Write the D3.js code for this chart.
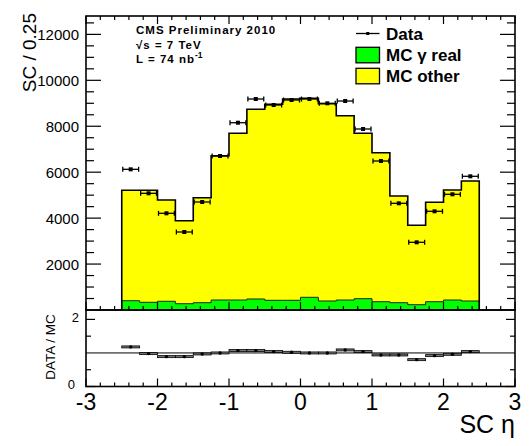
<!DOCTYPE html>
<html><head><meta charset="utf-8">
<script src="https://cdn.jsdelivr.net/npm/d3@7"></script>
<style>
body{margin:0;background:#fff;}
svg{display:block;font-family:"Liberation Sans",Arial,sans-serif;}
</style></head>
<body><svg id="c" width="530" height="446"></svg>
<script>
// ---- data ----
const binLow  = [-2.5,-2.25,-2.0,-1.75,-1.5,-1.25,-1.0,-0.75,-0.5,-0.25,0.0,0.25,0.5,0.75,1.0,1.25,1.5,1.75,2.0,2.25];
const binHigh = [-2.25,-2.0,-1.75,-1.5,-1.25,-1.0,-0.75,-0.5,-0.25,0.0,0.25,0.5,0.75,1.0,1.25,1.5,1.75,2.0,2.25,2.5];
const mcGammaReal = [405,335,379,274,318,435,435,479,422,422,553,392,435,492,361,318,231,361,435,392];
const mcOther     = [4806,4876,4410,3614,4571,6282,7258,8258,8533,8764,8663,8589,8024,7201,6487,4645,3456,4328,4789,5224];
const dataCounts  = [6125,5080,4210,3396,4702,6704,8154,9186,8925,9142,9186,8999,9099,7880,6487,4645,2947,4297,5037,5821];
const ratio       = [1.18,0.98,0.89,0.89,0.97,1.00,1.07,1.07,1.04,1.02,1.00,1.00,1.09,1.04,0.94,0.94,0.80,0.92,0.96,1.04];
const xTickLabels = [-3,-2,-1,0,1,2,3];
const yTickLabels = [2000,4000,6000,8000,10000,12000];
const ratioTickLabels = [0,2];

const legendItems = [
  {label:"Data", type:"data"},
  {label:"MC \u03b3 real", type:"box", color:"#00ff00"},
  {label:"MC other", type:"box", color:"#ffff00"}
];

// ---- layout ----
const L=86, R=515, T=16, M=310, B=386.5;
const svg = d3.select("#c");
const x = d3.scaleLinear().domain([-3,3]).range([L,R]);
const y = d3.scaleLinear().domain([0,12800]).range([M,T]);
const yr = d3.scaleLinear().domain([0,2.28]).range([B,M]);

const n = binLow.length;
const total = mcGammaReal.map((g,i)=>g+mcOther[i]);

function stepPath(vals, ys){
  let p = `M${x(binLow[0])},${ys(0)}`;
  for(let i=0;i<n;i++){
    p += `L${x(binLow[i])},${ys(vals[i])}L${x(binHigh[i])},${ys(vals[i])}`;
  }
  p += `L${x(binHigh[n-1])},${ys(0)}Z`;
  return p;
}
function stepLine(vals, ys){
  let p = `M${x(binLow[0])},${ys(0)}`;
  for(let i=0;i<n;i++){
    p += `L${x(binLow[i])},${ys(vals[i])}L${x(binHigh[i])},${ys(vals[i])}`;
  }
  p += `L${x(binHigh[n-1])},${ys(0)}`;
  return p;
}

// stacked histogram
svg.append("path").attr("d",stepPath(total,y)).attr("fill","#ffff00").attr("stroke","none");
svg.append("path").attr("d",stepPath(mcGammaReal,y)).attr("fill","#00ff00").attr("stroke","none");
svg.append("path").attr("d",stepLine(mcGammaReal,y)).attr("fill","none").attr("stroke","#222").attr("stroke-width",1);
svg.append("path").attr("d",stepLine(total,y)).attr("fill","none").attr("stroke","#000").attr("stroke-width",1.6);

// data points
const dg = svg.append("g");
dataCounts.forEach((v,i)=>{
  const x0=x(binLow[i]), x1=x(binHigh[i]), yc=y(v), xc=(x0+x1)/2;
  dg.append("line").attr("x1",x0+1).attr("x2",x1-1).attr("y1",yc).attr("y2",yc).attr("stroke","#000").attr("stroke-width",1.3);
  dg.append("line").attr("x1",x0+1).attr("x2",x0+1).attr("y1",yc-2.5).attr("y2",yc+2.5).attr("stroke","#000").attr("stroke-width",1.3);
  dg.append("line").attr("x1",x1-1).attr("x2",x1-1).attr("y1",yc-2.5).attr("y2",yc+2.5).attr("stroke","#000").attr("stroke-width",1.3);
  dg.append("rect").attr("x",xc-2).attr("y",yc-2).attr("width",4).attr("height",4).attr("fill","#000");
});

// ratio panel
const rg = svg.append("g");
rg.append("line").attr("x1",L).attr("x2",R).attr("y1",yr(1)).attr("y2",yr(1)).attr("stroke","#000").attr("stroke-width",1);
ratio.forEach((v,i)=>{
  const x0=x(binLow[i]), x1=x(binHigh[i]), yc=yr(v), xc=(x0+x1)/2;
  rg.append("rect").attr("x",x0).attr("width",x1-x0).attr("y",yc-1).attr("height",2).attr("fill","#777").attr("stroke","#000").attr("stroke-width",0.8);
  rg.append("circle").attr("cx",xc).attr("cy",yc).attr("r",1.7).attr("fill","#000");
});

// frames
const fr = svg.append("g").attr("fill","none").attr("stroke","#000").attr("stroke-width",1.6);
fr.append("rect").attr("x",L).attr("y",T).attr("width",R-L).attr("height",M-T);
fr.append("rect").attr("x",L).attr("y",M).attr("width",R-L).attr("height",B-M);

// ticks
const tk = svg.append("g").attr("stroke","#000").attr("stroke-width",1.2);
const xMajor = xTickLabels;
const xMinor = d3.range(-3,3.0001,0.2).filter(v=>Math.abs(v-Math.round(v))>1e-6);
xMajor.forEach(v=>{
  tk.append("line").attr("x1",x(v)).attr("x2",x(v)).attr("y1",T).attr("y2",T+8);
  tk.append("line").attr("x1",x(v)).attr("x2",x(v)).attr("y1",M).attr("y2",M-8);
  tk.append("line").attr("x1",x(v)).attr("x2",x(v)).attr("y1",B).attr("y2",B-8);
});
xMinor.forEach(v=>{
  tk.append("line").attr("x1",x(v)).attr("x2",x(v)).attr("y1",T).attr("y2",T+4);
  tk.append("line").attr("x1",x(v)).attr("x2",x(v)).attr("y1",M).attr("y2",M-4);
  tk.append("line").attr("x1",x(v)).attr("x2",x(v)).attr("y1",B).attr("y2",B-4);
});
const yMinor = d3.range(500,12800,500).filter(v=>v%2000!==0);
yTickLabels.forEach(v=>{
  tk.append("line").attr("x1",L).attr("x2",L+15).attr("y1",y(v)).attr("y2",y(v));
  tk.append("line").attr("x1",R).attr("x2",R-15).attr("y1",y(v)).attr("y2",y(v));
});
yMinor.forEach(v=>{
  tk.append("line").attr("x1",L).attr("x2",L+8).attr("y1",y(v)).attr("y2",y(v));
  tk.append("line").attr("x1",R).attr("x2",R-8).attr("y1",y(v)).attr("y2",y(v));
});
ratioTickLabels.forEach(v=>{
  tk.append("line").attr("x1",L).attr("x2",L+9).attr("y1",yr(v)).attr("y2",yr(v));
  tk.append("line").attr("x1",R).attr("x2",R-9).attr("y1",yr(v)).attr("y2",yr(v));
});
[0.5,1.5].forEach(v=>{
  tk.append("line").attr("x1",L).attr("x2",L+5).attr("y1",yr(v)).attr("y2",yr(v));
  tk.append("line").attr("x1",R).attr("x2",R-5).attr("y1",yr(v)).attr("y2",yr(v));
});

// tick labels
const tx = svg.append("g").attr("fill","#000");
yTickLabels.forEach(v=>{
  tx.append("text").attr("x",79).attr("y",y(v)+5.5).attr("text-anchor","end").attr("font-size",15).text(v);
});
ratioTickLabels.forEach(v=>{
  tx.append("text").attr("x",v===0?75:79).attr("y",yr(v)+2.5).attr("text-anchor","end").attr("font-size",13).text(v);
});
xTickLabels.forEach(v=>{
  tx.append("text").attr("x",x(v)).attr("y",409.5).attr("text-anchor","middle").attr("font-size",23).text(v);
});

// axis titles
tx.append("text").attr("transform","translate(36,13) rotate(-90)").attr("text-anchor","end").attr("font-size",19).text("SC / 0.25");
tx.append("text").attr("transform","translate(55,347) rotate(-90)").attr("text-anchor","middle").attr("font-size",13.5).text("DATA / MC");
tx.append("text").attr("x",515).attr("y",433).attr("text-anchor","end").attr("font-size",25).text("SC \u03b7");

// CMS label
const cms = svg.append("g").attr("font-weight","bold").attr("font-size",11.5).attr("letter-spacing",1).attr("fill","#000");
cms.append("text").attr("x",136).attr("y",34).text("CMS Preliminary 2010");
cms.append("text").attr("x",136).attr("y",48.5).text("\u221As = 7 TeV");
const lum = cms.append("text").attr("x",136).attr("y",62.5);
lum.append("tspan").text("L = 74 nb");
lum.append("tspan").attr("dy",-5).attr("font-size",8.5).attr("letter-spacing",0).text("-1");

// legend
const lg = svg.append("g");
const lx0=356, lx1=379.5;
const rows = [33.5, 55, 76];
legendItems.forEach((it,i)=>{
  const yc = rows[i];
  if(it.type==="data"){
    lg.append("line").attr("x1",lx0).attr("x2",lx1).attr("y1",yc).attr("y2",yc).attr("stroke","#000").attr("stroke-width",1.3);
    lg.append("rect").attr("x",(lx0+lx1)/2-1.5).attr("y",yc-1.5).attr("width",3).attr("height",3).attr("fill","#000");
  } else {
    lg.append("rect").attr("x",lx0).attr("y",yc-7.7).attr("width",lx1-lx0).attr("height",15.5).attr("fill",it.color).attr("stroke","#000").attr("stroke-width",1.3);
  }
  lg.append("text").attr("x",386).attr("y",yc+6).attr("font-size",17).attr("font-weight","bold").text(it.label);
});
</script></body></html>
